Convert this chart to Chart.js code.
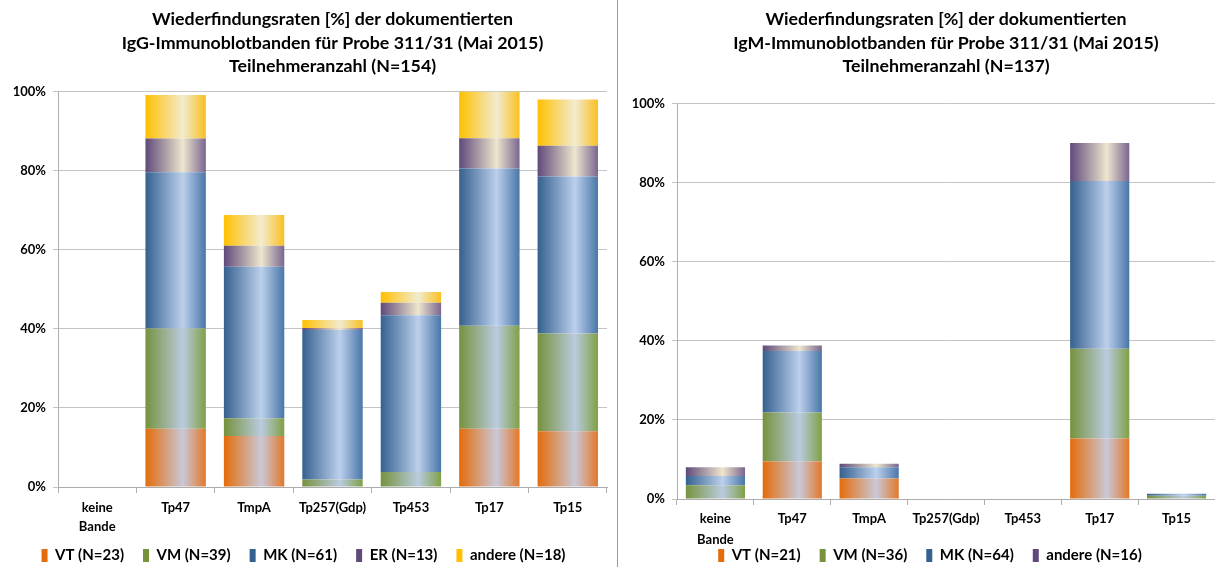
<!DOCTYPE html>
<html>
<head>
<meta charset="utf-8">
<script src="https://cdn.jsdelivr.net/npm/chart.js@4/dist/chart.umd.min.js"></script>
<style>
  body { margin: 0; background: #fff; width: 1215px; height: 567px; overflow: hidden; position: relative; }
  #leftBox { position: absolute; left: 0; top: 0; width: 615px; height: 567px; }
  #rightBox { position: absolute; left: 619px; top: 0; width: 596px; height: 567px; }
  #sep { position: absolute; left: 617px; top: 0; width: 1px; height: 567px; background: #9a9a9a; }
</style>
</head>
<body>
<div id="leftBox"><canvas id="iggChart"></canvas></div>
<div id="sep"></div>
<div id="rightBox"><canvas id="igmChart"></canvas></div>
<script>
const categories = [['keine', 'Bande'], 'Tp47', 'TmpA', 'Tp257(Gdp)', 'Tp453', 'Tp17', 'Tp15']
const yTicks = [0, 20, 40, 60, 80, 100]

// IgG (N=154)
const iggVT = [0, 14.7, 12.9, 0, 0, 14.7, 14.1]
const iggVM = [0, 25.4, 4.5, 1.9, 3.8, 26.1, 24.7]
const iggMK = [0, 39.5, 38.3, 37.8, 39.6, 39.7, 39.7]
const iggER = [0, 8.5, 5.3, 0.5, 3.2, 7.7, 7.8]
const iggAndere = [0, 11.0, 7.8, 2.0, 2.7, 11.8, 11.7]

// IgM (N=137)
const igmVT = [0, 9.5, 5.2, 0, 0, 15.3, 0]
const igmVM = [3.5, 12.4, 0, 0, 0, 22.7, 0.8]
const igmMK = [2.3, 15.5, 2.8, 0, 0, 42.4, 0.5]
const igmAndere = [2.2, 1.4, 0.9, 0, 0, 9.6, 0]

const BAR_PCT = 0.77

// dark left edge, pale highlight right of centre, darker right edge
const shades = {
  orange: ['#E46C0A', '#C9C8D8', '#E2782A'],
  green: ['#76923C', '#BACBE0', '#80A046'],
  blue: ['#35608F', '#BCD0EC', '#4A76A8'],
  purple: ['#5F4A7A', '#EEE6CE', '#7A6690'],
  yellow: ['#FFC000', '#F2EBCF', '#FAC020']
}

function barFill (stops) {
  return function (ctx) {
    const chart = ctx.chart
    const x = chart.scales.x
    if (ctx.type !== 'data' || !x) return stops[0]
    const cx = x.getPixelForValue(ctx.dataIndex)
    const half = x.width / categories.length * BAR_PCT / 2
    if (!isFinite(cx) || !isFinite(half) || half <= 0) return stops[0]
    const g = chart.ctx.createLinearGradient(cx - half, 0, cx + half, 0)
    g.addColorStop(0, stops[0])
    g.addColorStop(0.62, stops[1])
    g.addColorStop(1, stops[2])
    return g
  }
}

function series (label, data, key) {
  return {
    label: label,
    data: data,
    backgroundColor: barFill(shades[key]),
    legendColor: shades[key][0],
    borderWidth: 0,
    barPercentage: BAR_PCT,
    categoryPercentage: 1
  }
}

// shrink the legend box, then stretch its top upwards so it sits close under the axis labels
const legendSqueeze = {
  id: 'legendSqueeze',
  beforeLayout (chart, args, opts) {
    const lg = chart.legend
    if (lg && !lg._squeezed) {
      const fit = lg.fit
      lg.fit = function () {
        fit.call(this)
        this.height = opts.height
      }
      lg._squeezed = true
    }
  },
  afterLayout (chart, args, opts) {
    const lg = chart.legend
    if (!lg) return
    lg.top -= opts.lift
    lg.height = lg.bottom - lg.top
    lg.left += opts.dx
    lg.right += opts.dx
  }
}

function makeChart (id, title, datasets, cfg) {
  return new Chart(document.getElementById(id).getContext('2d'), {
    type: 'bar',
    data: { labels: categories, datasets: datasets },
    plugins: [legendSqueeze],
    options: {
      animation: false,
      responsive: true,
      maintainAspectRatio: false,
      layout: { padding: { left: 0, right: cfg.padRight, top: 0, bottom: 0 } },
      plugins: {
        tooltip: { enabled: false },
        legendSqueeze: { height: cfg.legendHeight, lift: cfg.lift, dx: cfg.legendDx },
        title: {
          display: true,
          text: title,
          fullSize: false,
          color: '#000',
          font: { family: 'Lato', size: 17.8, weight: 'bold', lineHeight: 1.32 },
          padding: { top: 8, bottom: cfg.titleBottom }
        },
        legend: {
          position: 'bottom',
          labels: {
            boxWidth: 6,
            boxHeight: 13,
            padding: 19,
            color: '#000',
            font: { family: 'Lato', size: 15, weight: 'bold' },
            generateLabels: function (chart) {
              return Chart.defaults.plugins.legend.labels.generateLabels(chart).map(function (item) {
                item.fillStyle = chart.data.datasets[item.datasetIndex].legendColor
                item.lineWidth = 0
                return item
              })
            }
          }
        }
      },
      scales: {
        x: {
          stacked: true,
          grid: { display: true, offset: true, drawOnChartArea: false, drawTicks: true, tickLength: 6, color: '#ADADAD' },
          border: { color: '#ADADAD' },
          ticks: { color: '#000', padding: cfg.xPad, font: { family: 'Lato', size: 13, weight: 'bold', lineHeight: cfg.xLine }, maxRotation: 0, autoSkip: false },
          afterFit: function (scale) { scale.height = cfg.xHeight }
        },
        y: {
          stacked: true,
          min: 0,
          max: 100,
          afterBuildTicks: function (scale) { scale.ticks = yTicks.map(v => ({ value: v })) },
          grid: { color: '#C4C4C4', tickLength: 5 },
          border: { color: '#ADADAD' },
          ticks: {
            color: '#000',
            padding: 7,
            font: { family: 'Lato', size: 13, weight: 'bold' },
            callback: v => v + '%'
          },
          afterFit: function (scale) { scale.width = 58 }
        }
      }
    }
  })
}

makeChart('iggChart',
  ['Wiederfindungsraten [%] der dokumentierten', 'IgG-Immunoblotbanden für Probe 311/31 (Mai 2015)', 'Teilnehmeranzahl (N=154)'],
  [
    series('VT (N=23)', iggVT, 'orange'),
    series('VM (N=39)', iggVM, 'green'),
    series('MK (N=61)', iggMK, 'blue'),
    series('ER (N=13)', iggER, 'purple'),
    series('andere (N=18)', iggAndere, 'yellow')
  ],
  { titleBottom: 13, padRight: 8, xHeight: 50, xPad: 5.6, xLine: 1.45, legendHeight: 30, lift: 8, legendDx: 0 })

makeChart('igmChart',
  ['Wiederfindungsraten [%] der dokumentierten', 'IgM-Immunoblotbanden für Probe 311/31 (Mai 2015)', 'Teilnehmeranzahl (N=137)'],
  [
    series('VT (N=21)', igmVT, 'orange'),
    series('VM (N=36)', igmVM, 'green'),
    series('MK (N=64)', igmMK, 'blue'),
    series('andere (N=16)', igmAndere, 'purple')
  ],
  { titleBottom: 25, padRight: 0, xHeight: 51, xPad: 3.6, xLine: 1.6, legendHeight: 17, lift: 21, legendDx: 13 })
</script>
</body>
</html>
